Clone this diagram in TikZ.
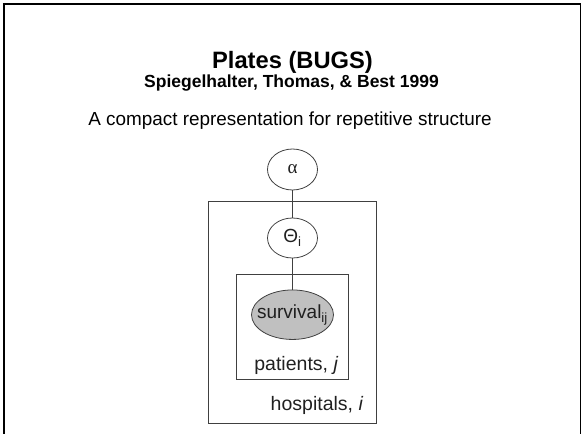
\documentclass[tikz,border=0pt]{standalone}
\usepackage{fontspec}
\setmainfont{Liberation Sans}
\newfontfamily\greekserif{Liberation Serif}
\usetikzlibrary{shapes.geometric}
\definecolor{linegray}{HTML}{404040}
\definecolor{obsfill}{HTML}{C0C0C0}
\definecolor{txtgray}{HTML}{202020}
\begin{document}
\begin{tikzpicture}[x=1pt,y=-1pt,
  rv/.style={ellipse, draw=linegray, line width=0.8pt, inner sep=0pt,
    text=txtgray, font=\fontsize{19}{19}\selectfont},
  obs/.style={rv, fill=obsfill},
  plate/.style={draw=linegray, line width=0.8pt},
  platelabel/.style={anchor=base east, inner sep=0pt, text=txtgray,
    font=\fontsize{19.5}{19.5}\selectfont},
  edge/.style={draw=linegray, line width=0.8pt},
  frameline/.style={draw=black}]
\useasboundingbox (0,0) rectangle (582,434);
% slide frame (no bottom edge)
\draw[frameline, line width=2.4pt] (4,434) -- (4,3.7);
\draw[frameline, line width=2pt] (2.8,3.7) -- (581,3.7);
\draw[frameline, line width=1.5pt] (580.5,3.7) -- (580.5,434);
% titles
\node[anchor=base, inner sep=0pt, font=\fontsize{23.7}{24}\selectfont\bfseries] (title) at (292.5,68.3) {Plates (BUGS)};
\node[anchor=base, inner sep=0pt, font=\fontsize{17.5}{18}\selectfont\bfseries] (authors) at (291.5,87.5) {Spiegelhalter, Thomas, \& Best 1999};
\node[anchor=base, inner sep=0pt, font=\fontsize{18.9}{19}\selectfont] (subtitle) at (290,125) {A compact representation for repetitive structure};
% plates
\draw[plate] (208.3,201.7) rectangle (376,423.3);
\draw[plate] (236,274) rectangle (348.3,379.3);
% nodes
\node[rv, minimum width=50pt, minimum height=41pt] (alpha) at (292.5,169.5) {{\greekserif α}};
\node[rv, minimum width=50pt, minimum height=40pt] (theta) at (292.5,238) {Θ\textsubscript{i}};
\node[obs, minimum width=82pt, minimum height=49.5pt,
  label={[name=survtext, text=txtgray, inner sep=0pt, font=\fontsize{19}{19}\selectfont]center:survival\textsubscript{ij}}] (surv) at (292.5,314.7) {};
% edges
\draw[edge] (alpha) -- (theta);
\draw[edge] (theta) -- (surv);
% plate labels
\node[platelabel] (pat) at (338.5,370) {patients, \textit{j}};
\node[platelabel] (hosp) at (363.5,410) {hospitals, \textit{i}};
\end{tikzpicture}
\end{document}
